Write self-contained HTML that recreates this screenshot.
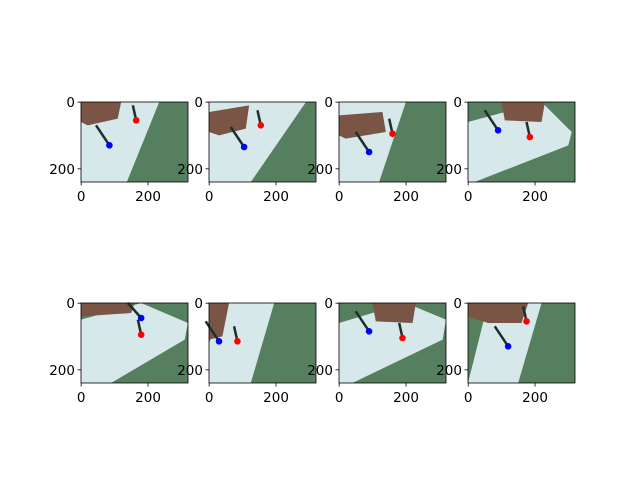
<!DOCTYPE html>
<html><head><meta charset="utf-8"><style>
html,body{margin:0;padding:0;background:#fff;width:640px;height:480px;overflow:hidden}
svg text{font-family:"DejaVu Sans","Liberation Sans",sans-serif;font-size:13.5px;fill:#000}
</style></head><body>
<svg id="fig" width="640" height="480" xmlns="http://www.w3.org/2000/svg"></svg>
<script>
const redX=[165,155,160,185,180,85,190,175];
const redY=[55,70,95,105,95,115,105,55];
const blueX=[85,105,90,90,180,30,90,120];
const blueY=[130,135,150,85,45,115,85,130];
const xTicks=[0,200];
const yTicks=[0,200];
const tables=[
 [[0,0],[234,0],[137,240],[0,240]],
 [[0,0],[290,0],[125,240],[0,240]],
 [[0,0],[200,0],[120,240],[0,240]],
 [[0,60],[220,0],[310,90],[300,130],[20,240],[0,240]],
 [[0,50],[180,0],[320,60],[310,110],[90,240],[0,240]],
 [[50,0],[195,0],[125,240],[0,240],[0,120]],
 [[0,60],[200,0],[320,50],[310,110],[40,240],[0,240]],
 [[60,0],[220,0],[150,240],[0,240]]
];
const browns=[
 [[0,0],[120,0],[110,50],[20,70],[0,60]],
 [[0,30],[120,10],[110,80],[30,100],[0,90]],
 [[0,40],[130,30],[140,90],[20,110],[0,100]],
 [[100,0],[230,0],[220,60],[110,55]],
 [[0,0],[160,0],[150,30],[0,40]],
 [[0,0],[60,0],[40,100],[0,110]],
 [[100,0],[230,0],[220,60],[110,55]],
 [[0,0],[180,0],[160,60],[60,60],[0,40]]
];
const colX=[81,209,339,468], rowY=[102,303], W=107, H=80;
const NS="http://www.w3.org/2000/svg";
const fig=document.getElementById('fig');
function mk(t,a,p){const e=document.createElementNS(NS,t);for(const k in a)e.setAttribute(k,a[k]);(p||fig).appendChild(e);return e;}
for(let i=0;i<8;i++){
 const x0=colX[i%4], y0=rowY[Math.floor(i/4)];
 const sx=v=>x0+v*W/320, sy=v=>y0+v*H/240;
 const g=mk('g',{});
 
 
 const bg=mk('rect',{x:x0,y:y0,width:W,height:H,fill:'#557f5e'},g);
 
 
 const tb=mk('polygon',{points:tables[i].map(p=>sx(p[0])+','+sy(p[1])).join(' '),fill:'#d6e8ea'},g);
 
 
 const br=mk('polygon',{points:browns[i].map(p=>sx(p[0])+','+sy(p[1])).join(' '),fill:'#7a5444'},g);
 
 
 const l1=mk('line',{x1:sx(redX[i]),y1:sy(redY[i]),x2:sx(redX[i]-10),y2:sy(Math.max(0,redY[i]-45)),stroke:'#1f2f2c','stroke-width':2.5},g);
 
 
 const l2=mk('line',{x1:sx(blueX[i]),y1:sy(blueY[i]),x2:sx(blueX[i]-40),y2:sy(Math.max(0,blueY[i]-60)),stroke:'#1f2f2c','stroke-width':2.5},g);
 
 
 const rd=mk('circle',{cx:sx(redX[i]),cy:sy(redY[i]),r:3.3,fill:'#ff0000'},g);
 
 
 const bd=mk('circle',{cx:sx(blueX[i]),cy:sy(blueY[i]),r:3.3,fill:'#0000ff'},g);
 
 
 const fr=mk('rect',{x:x0,y:y0,width:W,height:H,fill:'none',stroke:'#000','stroke-width':0.8},g);
 
 
 xTicks.forEach(t=>{
  const tx=sx(t+0.5);
  mk('line',{x1:tx,y1:y0+H,x2:tx,y2:y0+H+3.5,stroke:'#000','stroke-width':0.8},g);
  const lb=mk('text',{x:tx,y:y0+H+19,'text-anchor':'middle'},g);
  lb.textContent=t;
  
  
 });
 yTicks.forEach(t=>{
  const ty=sy(t+0.5);
  mk('line',{x1:x0,y1:ty,x2:x0-3.5,y2:ty,stroke:'#000','stroke-width':0.8},g);
  const lb=mk('text',{x:x0-6,y:ty+5,'text-anchor':'end'},g);
  lb.textContent=t;
  
  
 });
}
</script>
</body></html>
